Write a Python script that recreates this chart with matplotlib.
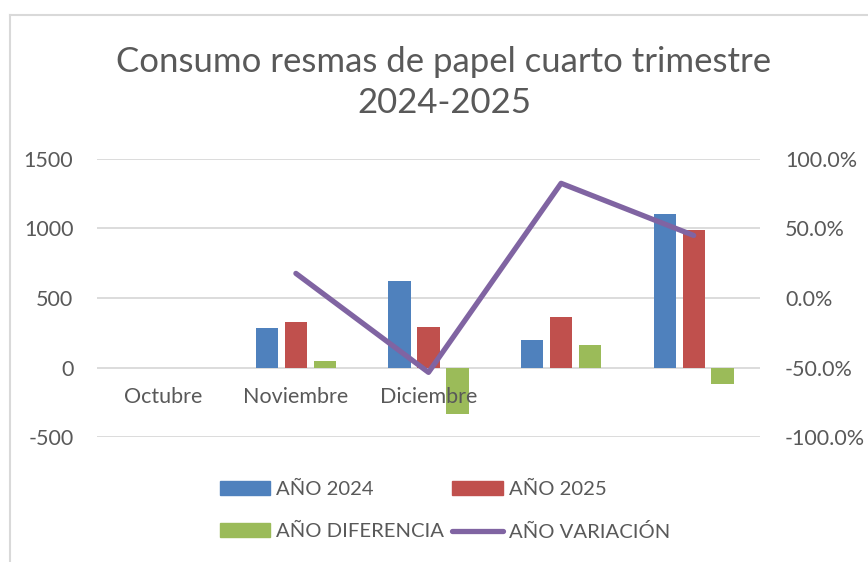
import matplotlib
matplotlib.use("Agg")
import matplotlib.pyplot as plt
import numpy as np
from matplotlib.lines import Line2D
from matplotlib.patches import Patch

plt.rcParams['font.family'] = ['Lato', 'DejaVu Sans']

categories = ["Octubre", "Noviembre", "Diciembre", "", ""]
anio_2024 = [np.nan, 282, 622, 201, 1105]
anio_2025 = [np.nan, 328, 292, 366, 986]
anio_diferencia = [np.nan, 50, -332, 165, -120]
anio_variacion = [np.nan, 0.177, -0.535, 0.825, 0.45]

left_ticks = [-500, 0, 500, 1000, 1500]
right_ticks = [-1.0, -0.5, 0.0, 0.5, 1.0]

C_BLUE = "#4F81BD"
C_RED = "#C0504D"
C_GREEN = "#9BBB59"
C_PURPLE = "#8064A2"
TXT = "#595959"
GRID = "#D9D9D9"

W, H = 868, 562
fig = plt.figure(figsize=(W / 100, H / 100), dpi=100)
fig.patch.set_facecolor("white")

# chart border (partially cropped at right/bottom)
fig.add_artist(Line2D([9.5 / W, 9.5 / W], [0, 1 - 15 / H], color=GRID, lw=1.5, transform=fig.transFigure))
fig.add_artist(Line2D([9.5 / W, 1], [1 - 15 / H, 1 - 15 / H], color=GRID, lw=1.5, transform=fig.transFigure))

x0, x1 = 97, 760
y_top, y_bot = 159, 437
ax = fig.add_axes([x0 / W, 1 - y_bot / H, (x1 - x0) / W, (y_bot - y_top) / H])
ax2 = ax.twinx()

x = np.arange(len(categories))
bw = 0.168
off = 0.218
ax.bar(x - off, anio_2024, bw, color=C_BLUE, zorder=3)
ax.bar(x, anio_2025, bw, color=C_RED, zorder=3)
ax.bar(x + off, anio_diferencia, bw, color=C_GREEN, zorder=3)

ax.set_xlim(-0.5, len(categories) - 0.5)
ax.set_ylim(-500, 1500)
ax.set_yticks(left_ticks)
ax.set_yticklabels([f"{v}" for v in left_ticks])
ax.grid(axis="y", color=GRID, lw=1.3, zorder=0)
ax.set_axisbelow(True)
for s in ax.spines.values():
    s.set_visible(False)
ax.tick_params(axis="y", length=0, pad=17, labelsize=15.5, labelcolor=TXT)
ax.set_xticks([])

# category labels below zero line (Excel places them next to the axis at 0)
for xi, c in zip(x, categories):
    ax.text(xi, -215, c, ha="center", va="center", fontsize=15.5, color=TXT, zorder=5)

ax2.plot(x, anio_variacion, color=C_PURPLE, lw=3.8, solid_capstyle="round", zorder=4)
ax2.set_ylim(-1.0, 1.0)
ax2.set_yticks(right_ticks)
ax2.set_yticklabels([f"{v * 100:.1f}%" for v in right_ticks])
for s in ax2.spines.values():
    s.set_visible(False)
ax2.tick_params(axis="y", length=0, pad=18, labelsize=15.5, labelcolor=TXT)

fig.text(0.5 * (118 + 770) / W, 1 - 62 / H, "Consumo resmas de papel cuarto trimestre",
         ha="center", va="center", fontsize=25, color=TXT)
fig.text(0.5 * (118 + 770) / W, 1 - 103 / H, "2024-2025",
         ha="center", va="center", fontsize=25, color=TXT)

h2024 = Patch(color=C_BLUE)
h2025 = Patch(color=C_RED)
hdif = Patch(color=C_GREEN)
hvar = Line2D([0], [0], color=C_PURPLE, lw=3.8, solid_capstyle="round")
# column-major fill: row1 = 2024, 2025 ; row2 = diferencia, variacion
handles = [h2024, hdif, h2025, hvar]
labels = ["AÑO 2024", "AÑO DIFERENCIA", "AÑO 2025", "AÑO VARIACIÓN"]
leg = fig.legend(handles, labels, ncol=2, loc="center", bbox_to_anchor=(445 / W, 1 - 511 / H),
                 frameon=False, fontsize=14.6, labelcolor=TXT, handlelength=2.5, handleheight=0.68,
                 handletextpad=0.3, columnspacing=0.4, labelspacing=1.2)

fig.savefig("out.png", dpi=100)
